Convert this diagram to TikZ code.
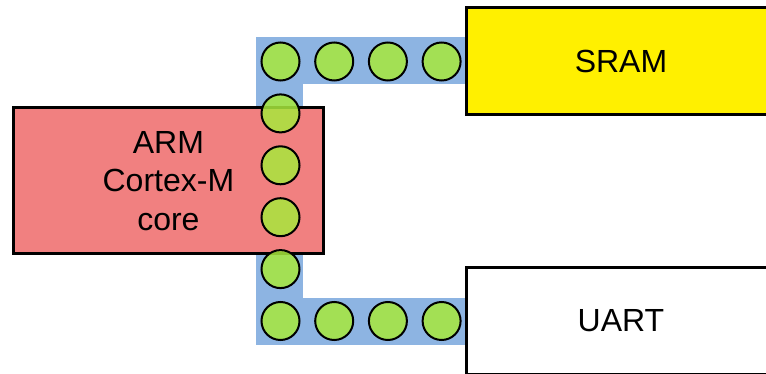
\documentclass[tikz,border=0pt]{standalone}
\usepackage{fontspec}
\setmainfont{Liberation Sans}
\usepackage{xcolor}
\usetikzlibrary{positioning}

\definecolor{armred}{RGB}{241,128,128}
\definecolor{sramyellow}{RGB}{255,240,0}
\definecolor{busblue}{RGB}{141,180,226}
\definecolor{pingreen}{RGB}{168,232,60}

\begin{document}
\begin{tikzpicture}[
    x=1pt, y=-1pt,
    block/.style={rectangle, draw=black, line width=3pt, align=center, font=\fontsize{32}{38.5}\selectfont},
    cpu/.style={block, fill=armred, minimum width=310pt, minimum height=146pt},
    mem/.style={block, minimum width=310pt, minimum height=107pt},
    bus/.style={draw=busblue, line width=47pt, line join=miter},
    pin/.style={circle, draw=black, line width=2pt, fill=pingreen, fill opacity=0.85, draw opacity=1, minimum size=38pt, inner sep=0pt}
]
    \useasboundingbox (0,0) rectangle (766,374);
    \clip (0,0) rectangle (766,374);

    \node [mem, fill=sramyellow] (sram) at (621,61) {SRAM};
    \node [mem, fill=white] (uart) at (621,321) {UART};
    \coordinate (busx) at (279.5,0);

    % bus behind everything
    \draw [bus] (sram.west) -| (busx |- uart.west) -- (uart.west);

    \node [cpu] (core) at (168.4,180.8) {ARM\\Cortex-M\\core};
    \node [mem, fill=sramyellow] at (sram) {SRAM};
    \node [mem, fill=white] at (uart) {UART};

    % pins
    \foreach \i in {0,...,3}
        \node [pin] (top\i) at (280.5+53.7*\i, 61.5) {};
    \foreach \k in {1,...,4}
        \node [pin] (mid\k) at (280.5, 61.5+51.9*\k) {};
    \foreach \i in {0,...,3}
        \node [pin] (bot\i) at (280.5+53.7*\i, 321) {};
\end{tikzpicture}
\end{document}
